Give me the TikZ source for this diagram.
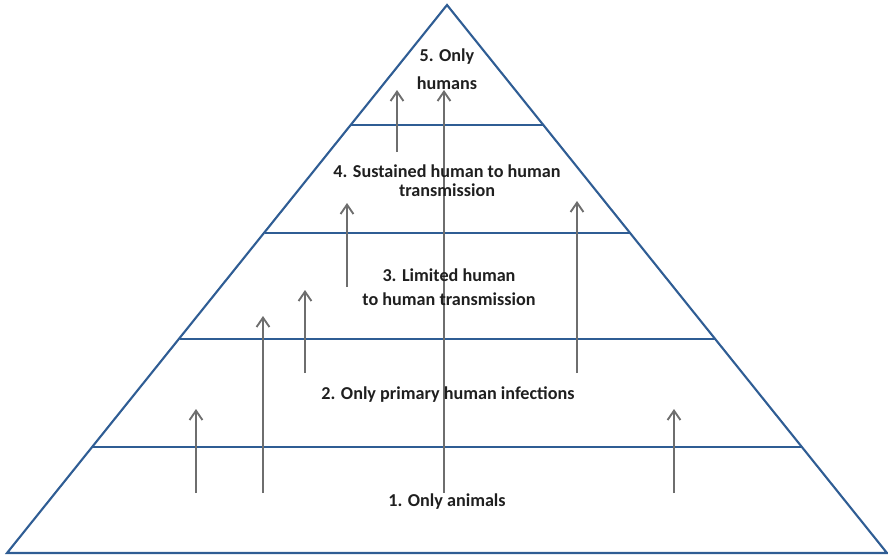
\documentclass[tikz,border=0pt]{standalone}
\usepackage{fontspec}
\setmainfont{Carlito}
\usetikzlibrary{arrows.meta}

\begin{document}
\begin{tikzpicture}[x=0.03cm, y=-0.03cm,
	edge/.style={draw=pyrblue, line width=1.8pt, line join=miter},
	rise/.style={draw=risegray, line width=1.9pt, -{Straight Barb[length=8pt, width=11pt, line width=1.6pt]}},
	level/.style={font=\fontsize{15.5}{18}\selectfont\bfseries, text=black!88, inner sep=0pt}]
	\definecolor{pyrblue}{HTML}{2F5D94}
	\definecolor{risegray}{HTML}{6E6E6E}
	\useasboundingbox (0, 0) rectangle (888, 555);
	\coordinate (apex) at (447, 5);
	\coordinate (baseL) at (7, 553);
	\coordinate (baseR) at (887, 553);
	\draw [edge] (apex) -- (baseL) -- (baseR) -- cycle;
	\draw [edge] (351, 125) -- (543, 125);
	\draw [edge] (264.5, 233) -- (629.5, 233);
	\draw [edge] (179.5, 339) -- (714.5, 339);
	\draw [edge] (93, 447) -- (801, 447);
	\foreach \name/\x/\yfrom/\yto in {a/196/493/409, b/263/493/316, c/305/373/290, d/347/287/203,
		e/397/152/90, f/444/493/90, g/577/373/201, h/674/493/409} {
		\coordinate (\name-from) at (\x, \yfrom);
		\coordinate (\name-to) at (\x, \yto);
		\draw [rise] (\name-from) -- (\name-to);
	}
	\node (lvl5a) at (447, 57) [level] {5. Only};
	\node (lvl5b) at (447, 83) [level] {humans};
	\node (lvl4a) at (447, 171) [level] {4. Sustained human to human};
	\node (lvl4b) at (447, 190) [level] {transmission};
	\node (lvl3a) at (449, 275) [level] {3. Limited human};
	\node (lvl3b) at (449, 299) [level] {to human transmission};
	\node (lvl2) at (448, 395) [level] {2. Only primary human infections};
	\node (lvl1) at (447, 502) [level] {1. Only animals};
\end{tikzpicture}
\end{document}
